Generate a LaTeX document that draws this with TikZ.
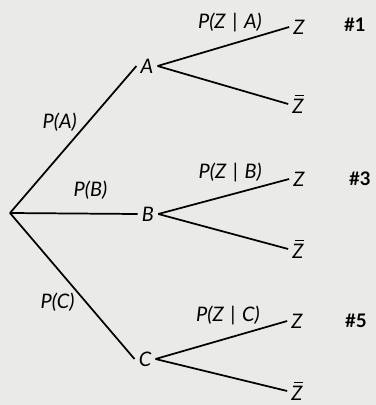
\documentclass[tikz,border=0pt]{standalone}
\usepackage{fontspec}
\setmainfont{Lato}
\usetikzlibrary{positioning}
\definecolor{paper}{RGB}{234,234,232}
\newcommand{\zbar}{\makebox[0pt][l]{\hspace{0.14em}\rule[0.86em]{0.42em}{0.065em}}Z}

\begin{document}
\begin{tikzpicture}[x=0.75pt, y=-0.75pt,
    every node/.style={inner sep=3pt, font=\fontsize{15}{17}\selectfont\itshape},
    branch/.style={line width=1.3pt},
    tag/.style={font=\fontsize{14}{16}\selectfont\upshape\bfseries}]
  \fill[paper] (0,0) rectangle (376,405);
  \useasboundingbox (0,0) rectangle (376,405);

  % first stage
  \coordinate (root) at (10,213);
  \node (A) at (147,66) {A};
  \node (B) at (148,214) {B};
  \node (C) at (145,359) {C};
  \draw[branch] (root) -- node[pos=0.62, left=5pt] {P(A)} (A.west);
  \draw[branch] (root) -- node[pos=0.63, above=7pt] {P(B)} (B.west);
  \draw[branch] (root) -- node[pos=0.61, left=5pt] {P(C)} (C.west);

  % second stage
  \node (ZA) at (299,27) {Z};
  \node (ZbarA) at (298,104) {\zbar};
  \node (ZB) at (299,179) {Z};
  \node (ZbarB) at (298,249) {\zbar};
  \node (ZC) at (297,321) {Z};
  \node (ZbarC) at (297,391) {\zbar};
  \draw[branch] (A.east) -- node[pos=0.55, above=6pt] {P(Z\,\,|\,\,A)} (ZA.west);
  \draw[branch] (A.east) -- (ZbarA.west);
  \draw[branch] (B.east) -- node[pos=0.55, above=6pt] {P(Z\,\,|\,\,B)} (ZB.west);
  \draw[branch] (B.east) -- (ZbarB.west);
  \draw[branch] (C.east) -- node[pos=0.55, above=6pt] {P(Z\,\,|\,\,C)} (ZC.west);
  \draw[branch] (C.east) -- (ZbarC.west);

  \node[tag] (tag1) at (355,25) {\#1};
  \node[tag] (tag3) at (360,179) {\#3};
  \node[tag] (tag5) at (356,321) {\#5};
\end{tikzpicture}
\end{document}
